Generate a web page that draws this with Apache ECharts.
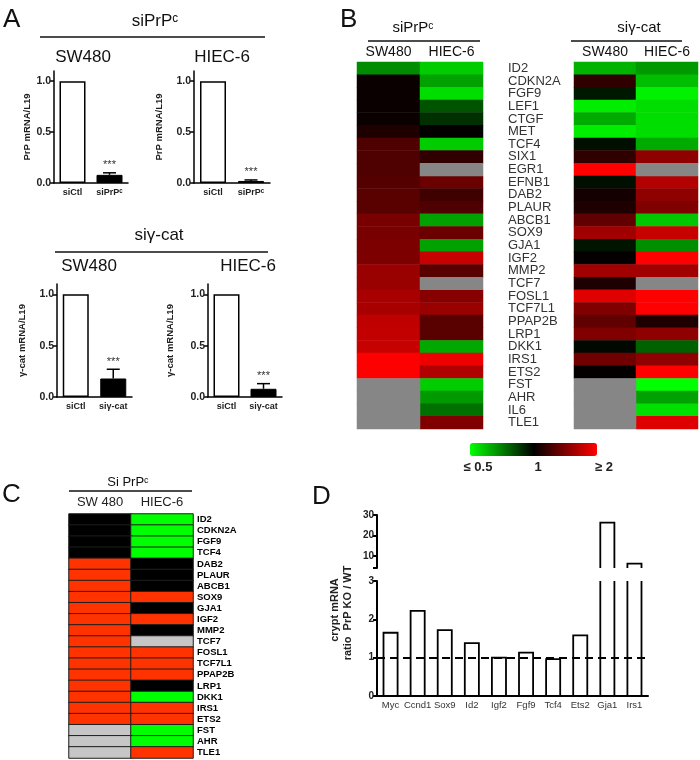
<!DOCTYPE html>
<html><head><meta charset="utf-8">
<script src="https://cdn.jsdelivr.net/npm/echarts@6/dist/echarts.min.js"></script>
<style>html,body{margin:0;padding:0;background:#fff}#c{width:700px;height:760px}</style>
</head><body><div id="c"></div>
<script>
// ---------- Panel A data ----------
const aCatsPrP = ['siCtl', 'siPrPᶜ'];
const aCatsCat = ['siCtl', 'siγ-cat'];
const prpSW480 = [1.0, 0.08];
const prpSW480Err = [0, 0.02];
const prpHIEC6 = [1.0, 0.02];
const prpHIEC6Err = [0, 0.01];
const catSW480 = [1.0, 0.18];
const catSW480Err = [0, 0.09];
const catHIEC6 = [1.0, 0.08];
const catHIEC6Err = [0, 0.05];
const aSig = ['', '***'];
const aTicks = [0, 0.5, 1.0];

// ---------- Panel B data (log2 fold change, clipped to [-1, 1]; null = not detected) ----------
const bGenes = ['ID2','CDKN2A','FGF9','LEF1','CTGF','MET','TCF4','SIX1','EGR1','EFNB1','DAB2','PLAUR','ABCB1','SOX9','GJA1','IGF2','MMP2','TCF7','FOSL1','TCF7L1','PPAP2B','LRP1','DKK1','IRS1','ETS2','FST','AHR','IL6','TLE1'];
const bColumns = ['SW480', 'HIEC-6'];
const prpSW480Log = [-0.55,0.04,0.04,0.04,0.04,0.12,0.31,0.31,0.31,0.33,0.35,0.35,0.47,0.47,0.49,0.49,0.6,0.6,0.66,0.66,0.75,0.76,0.78,1,1,null,null,null,null];
const prpHIEC6Log = [-0.8,-0.63,-0.87,-0.33,-0.19,0.01,-0.8,0.19,null,0.42,0.25,0.31,-0.63,0.42,-0.63,0.78,0.35,null,0.53,0.6,0.35,0.35,-0.66,0.93,0.69,-0.8,-0.6,-0.44,0.5];
const catSW480Log = [-0.7,0.19,-0.09,-0.93,-0.67,-0.93,-0.06,0.19,1,-0.06,0.08,0.12,0.38,0.63,-0.08,0.02,0.63,0.12,0.88,0.5,0.38,0.5,-0.03,0.44,0.02,null,null,null,null];
const catHIEC6Log = [-0.6,-0.75,-0.95,-0.87,-0.87,-0.87,-0.67,0.56,null,0.7,0.56,0.5,-0.78,0.78,-0.56,1,0.63,null,1,1,0.12,0.56,-0.38,0.56,1,-1,-0.63,-0.88,0.87];
const bScaleLabels = ['≤ 0.5', '1', '≥ 2'];

// ---------- Panel C data ----------
const cGenes = ['ID2','CDKN2A','FGF9','TCF4','DAB2','PLAUR','ABCB1','SOX9','GJA1','IGF2','MMP2','TCF7','FOSL1','TCF7L1','PPAP2B','LRP1','DKK1','IRS1','ETS2','FST','AHR','TLE1'];
const cColumns = ['SW 480', 'HIEC-6'];
const cSW480 = ['ns','ns','ns','ns','up','up','up','up','up','up','up','up','up','up','up','up','up','up','up','na','na','na'];
const cHIEC6 = ['down','down','down','down','ns','ns','ns','up','ns','up','ns','na','up','up','up','ns','down','up','up','down','down','up'];

// ---------- Panel D data ----------
const dGenes = ['Myc','Ccnd1','Sox9','Id2','Igf2','Fgf9','Tcf4','Ets2','Gja1','Irs1'];
const dRatio = [1.65, 2.22, 1.72, 1.38, 1.0, 1.13, 0.96, 1.58, 26.3, 6.1];
const dLowTicks = [0, 1, 2, 3];
const dHighTicks = [10, 20, 30];

// ---------- build ----------
const FONT = '"Liberation Sans", Arial, Helvetica, sans-serif';
const grids = [], xAxes = [], yAxes = [], series = [];

function errRender(sigArr) {
  return function (params, api) {
    const e = api.value(2);
    if (!e) return null;
    const c = api.value(0), v = api.value(1);
    const p0 = api.coord([c, v]);
    const p1 = api.coord([c, v + e]);
    const st = { stroke: '#000', lineWidth: 1.5 };
    return {
      type: 'group', children: [
        { type: 'line', shape: { x1: p0[0], y1: p0[1], x2: p1[0], y2: p1[1] }, style: st },
        { type: 'line', shape: { x1: p1[0] - 6.5, y1: p1[1], x2: p1[0] + 6.5, y2: p1[1] }, style: st },
        { type: 'text', x: p1[0], y: p1[1] - 2, style: { text: sigArr[params.dataIndex], align: 'center', verticalAlign: 'bottom', textAlign: 'center', textVerticalAlign: 'bottom', font: '11px ' + FONT, fill: '#333' } }
      ]
    };
  };
}

function addBarChart(g, cats, vals, errs, yName, nameGap) {
  const gi = grids.length;
  grids.push(g);
  xAxes.push({
    type: 'category', gridIndex: gi, data: cats,
    axisLine: { show: true, lineStyle: { color: '#000', width: 1.5 } },
    axisTick: { show: false },
    axisLabel: { interval: 0, fontFamily: FONT, fontSize: 9, fontWeight: 'bold', color: '#222', margin: 5 }
  });
  yAxes.push({
    type: 'value', gridIndex: gi, min: 0, max: 1.1,
    name: yName, nameLocation: 'middle', nameGap: nameGap,
    nameTextStyle: { fontFamily: FONT, fontSize: 9.5, fontWeight: 'bold', color: '#222' },
    axisLine: { show: true, lineStyle: { color: '#000', width: 1.5 } },
    axisTick: { show: true, length: 4, lineStyle: { color: '#000', width: 1.5 }, customValues: aTicks },
    axisLabel: { customValues: aTicks, formatter: v => v.toFixed(1), fontFamily: FONT, fontSize: 10.5, fontWeight: 'bold', color: '#222', margin: 3 },
    splitLine: { show: false }
  });
  series.push({
    type: 'bar', xAxisIndex: gi, yAxisIndex: gi, barWidth: 26,
    data: vals.map((v, i) => ({ value: v, itemStyle: i === 0 ? { color: '#fff', borderColor: '#000', borderWidth: 1.5 } : { color: '#000', borderColor: '#000', borderWidth: 1 } }))
  });
  series.push({
    type: 'custom', xAxisIndex: gi, yAxisIndex: gi, z: 3,
    data: vals.map((v, i) => [i, v, errs[i]]),
    renderItem: errRender(aSig)
  });
}

addBarChart({ left: 54, top: 71, width: 74, height: 112 }, aCatsPrP, prpSW480, prpSW480Err, 'PrP mRNA/L19', 18);
addBarChart({ left: 194, top: 71, width: 76, height: 112 }, aCatsPrP, prpHIEC6, prpHIEC6Err, 'PrP mRNA/L19', 30);
addBarChart({ left: 57, top: 284, width: 75, height: 113 }, aCatsCat, catSW480, catSW480Err, 'γ-cat mRNA/L19', 30);
addBarChart({ left: 208, top: 284, width: 74, height: 113 }, aCatsCat, catHIEC6, catHIEC6Err, 'γ-cat mRNA/L19', 33);

// Panel B heatmaps
const heatValueSeries = [];
function addHeat(g, swArr, hiArr, showGenes) {
  const gi = grids.length;
  grids.push(g);
  xAxes.push({
    type: 'category', gridIndex: gi, data: bColumns, position: 'top',
    axisLine: { show: false }, axisTick: { show: false },
    axisLabel: { interval: 0, fontFamily: FONT, fontSize: 14, color: '#111', margin: 3 }
  });
  yAxes.push({
    type: 'category', gridIndex: gi, data: bGenes, inverse: true,
    axisLine: { show: false }, axisTick: { show: false }, splitLine: { show: false },
    axisLabel: showGenes ? { show: true, interval: 0, align: 'left', margin: 66, fontFamily: FONT, fontSize: 13, color: '#333' } : { show: false }
  });
  const vals = [], na = [];
  [swArr, hiArr].forEach((arr, ci) => arr.forEach((v, ri) => {
    if (v === null) na.push([ci, ri, 0]); else vals.push([ci, ri, v]);
  }));
  heatValueSeries.push(series.length);
  series.push({ type: 'heatmap', xAxisIndex: gi, yAxisIndex: gi, data: vals, emphasis: { disabled: true } });
  series.push({ type: 'heatmap', xAxisIndex: gi, yAxisIndex: gi, data: na, itemStyle: { color: '#868686' }, emphasis: { disabled: true } });
}
addHeat({ left: 357, top: 62, width: 126, height: 367 }, prpSW480Log, prpHIEC6Log, false);
addHeat({ left: 574, top: 62, width: 124, height: 367 }, catSW480Log, catHIEC6Log, true);

// Panel C
const cColors = { up: '#ff3300', down: '#00ff00', ns: '#000000', na: '#c6c6c6' };
(function () {
  const gi = grids.length;
  grids.push({ left: 69, top: 514, width: 124, height: 244 });
  xAxes.push({
    type: 'category', gridIndex: gi, data: cColumns, position: 'top',
    axisLine: { show: false }, axisTick: { show: false },
    axisLabel: { interval: 0, fontFamily: FONT, fontSize: 13, color: '#222', margin: 5 }
  });
  yAxes.push({
    type: 'category', gridIndex: gi, data: cGenes, inverse: true, position: 'right',
    axisLine: { show: false }, axisTick: { show: false }, splitLine: { show: false },
    axisLabel: { interval: 0, align: 'left', margin: 4, fontFamily: FONT, fontSize: 9.5, fontWeight: 'bold', color: '#000' }
  });
  const data = [];
  [cSW480, cHIEC6].forEach((arr, ci) => arr.forEach((s, ri) => {
    data.push({ value: [ci, ri, 0], itemStyle: { color: cColors[s] } });
  }));
  series.push({ type: 'heatmap', xAxisIndex: gi, yAxisIndex: gi, data: data, itemStyle: { borderColor: '#1e1e1e', borderWidth: 1 }, emphasis: { disabled: true } });
})();

// Panel D (broken axis)
function dRender(lo, hi, isUpper) {
  return function (params, api) {
    const c = api.value(0), v = api.value(1);
    if (v <= lo) return null;
    const w = api.size([1, 0])[0] * 0.52;
    const x = api.coord([c, lo])[0];
    const xl = x - w / 2, xr = x + w / 2;
    const yBase = api.coord([c, lo])[1];
    const yTop = api.coord([c, Math.min(v, hi)])[1];
    const st = { stroke: '#000', lineWidth: 1.8, fill: null };
    if (!isUpper && v > hi) {
      return { type: 'group', children: [
        { type: 'line', shape: { x1: xl, y1: yBase, x2: xl, y2: yTop }, style: st },
        { type: 'line', shape: { x1: xr, y1: yBase, x2: xr, y2: yTop }, style: st }
      ] };
    }
    return { type: 'polyline', shape: { points: [[xl, yBase], [xl, yTop], [xr, yTop], [xr, yBase]] }, style: st };
  };
}
(function () {
  const gu = grids.length;
  grids.push({ left: 377, top: 515, width: 271, height: 53 });
  xAxes.push({ type: 'category', gridIndex: gu, data: dGenes, show: false });
  yAxes.push({
    type: 'value', gridIndex: gu, min: 4, max: 30,
    axisLine: { show: true, lineStyle: { color: '#000', width: 2 } },
    axisTick: { show: true, length: 4, lineStyle: { color: '#000', width: 2 }, customValues: [4].concat(dHighTicks) },
    axisLabel: { customValues: dHighTicks, fontFamily: FONT, fontSize: 10, fontWeight: 'bold', color: '#222', margin: 3 },
    splitLine: { show: false }
  });
  series.push({ type: 'custom', xAxisIndex: gu, yAxisIndex: gu, data: dRatio.map((v, i) => [i, v]), renderItem: dRender(4, 30, true) });

  const gl = grids.length;
  grids.push({ left: 377, top: 581, width: 271, height: 115 });
  xAxes.push({
    type: 'category', gridIndex: gl, data: dGenes,
    axisLine: { show: true, lineStyle: { color: '#000', width: 2 } },
    axisTick: { show: false },
    axisLabel: { interval: 0, fontFamily: FONT, fontSize: 9.5, color: '#333', margin: 4 }
  });
  yAxes.push({
    type: 'value', gridIndex: gl, min: 0, max: 3,
    axisLine: { show: true, lineStyle: { color: '#000', width: 2 } },
    axisTick: { show: true, length: 4, lineStyle: { color: '#000', width: 2 }, customValues: dLowTicks },
    axisLabel: { customValues: dLowTicks, fontFamily: FONT, fontSize: 10, fontWeight: 'bold', color: '#222', margin: 3 },
    splitLine: { show: false }
  });
  series.push({
    type: 'custom', xAxisIndex: gl, yAxisIndex: gl, data: dRatio.map((v, i) => [i, v]), renderItem: dRender(0, 3, false),
    markLine: { silent: true, symbol: 'none', label: { show: false }, z: 5, lineStyle: { type: [8, 5], color: '#000', width: 2 }, data: [{ yAxis: 1 }] }
  });
})();

// ---------- decorations (headings, rules) ----------
function txt(t, x, y, size, opts) {
  opts = opts || {};
  return {
    type: 'text', x: x, y: y, rotation: opts.rotation || 0,
    style: {
      text: t, font: (opts.weight || 'normal') + ' ' + size + 'px ' + FONT, fill: opts.fill || '#111',
      align: opts.align || 'center', verticalAlign: opts.valign || 'middle',
      textAlign: opts.align || 'center', textVerticalAlign: opts.valign || 'middle'
    }
  };
}
function rule(x1, y1, x2, y2) {
  return { type: 'line', shape: { x1, y1, x2, y2 }, style: { stroke: '#111', lineWidth: 1.6 } };
}
const graphics = [
  txt('A', 3, 7, 26, { align: 'left', valign: 'top' }),
  txt('siPrPᶜ', 155, 21, 17),
  rule(40, 37, 265, 37),
  txt('SW480', 83, 57, 17),
  txt('HIEC-6', 222, 57, 17),
  txt('siγ-cat', 159, 235, 17),
  rule(55, 252, 268, 252),
  txt('SW480', 89, 266, 17),
  txt('HIEC-6', 248, 266, 17),
  txt('B', 340, 7, 26, { align: 'left', valign: 'top' }),
  txt('siPrPᶜ', 413, 28, 15),
  rule(368, 41, 480, 41),
  txt('siγ-cat', 639, 28, 15),
  rule(571, 41, 682, 41),
  txt(bScaleLabels[0], 478, 467, 13, { weight: 'bold', fill: '#222' }),
  txt(bScaleLabels[1], 538, 467, 13, { weight: 'bold', fill: '#222' }),
  txt(bScaleLabels[2], 604, 467, 13, { weight: 'bold', fill: '#222' }),
  txt('C', 2, 482, 26, { align: 'left', valign: 'top' }),
  txt('Si PrPᶜ', 128, 482, 13),
  rule(69, 491, 192, 491),
  txt('D', 312, 484, 26, { align: 'left', valign: 'top' }),
  txt('crypt mRNA', 335, 610, 11, { weight: 'bold', rotation: Math.PI / 2, fill: '#222' }),
  txt('ratio  PrP KO / WT', 348, 613, 11, { weight: 'bold', rotation: Math.PI / 2, fill: '#222' })
];

const chart = echarts.init(document.getElementById('c'), null, { renderer: 'canvas' });
chart.setOption({
  animation: false,
  backgroundColor: '#fff',
  grid: grids,
  xAxis: xAxes,
  yAxis: yAxes,
  visualMap: [{
    type: 'continuous', min: -1, max: 1, seriesIndex: heatValueSeries,
    inRange: { color: ['#00ff00', '#000000', '#ff0000'] },
    orient: 'horizontal', left: 470, top: 443, itemWidth: 13, itemHeight: 127,
    calculable: false, hoverLink: false, padding: 0, text: null, showLabel: false
  }],
  graphic: graphics,
  series: series
});
</script>
</body></html>
